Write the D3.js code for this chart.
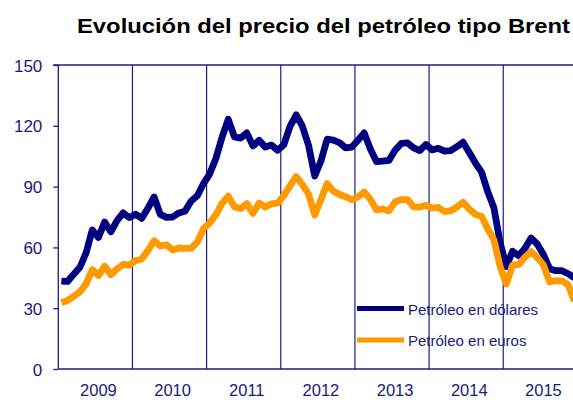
<!DOCTYPE html>
<html>
<head>
<meta charset="utf-8">
<script src="https://cdn.jsdelivr.net/npm/d3@7"></script>
<style>
  html, body { margin: 0; padding: 0; background: #fff; }
  svg { display: block; }
  text { font-family: "Liberation Sans", Arial, sans-serif; }
</style>
</head>
<body>
<svg id="chart" width="573" height="400"></svg>
<script>
// ---- Data (monthly, Jan 2009 – Dec 2015) ----
const years = ["2009", "2010", "2011", "2012", "2013", "2014", "2015"];
const yTicks = [0, 30, 60, 90, 120, 150];
const seriesNames = ["Petróleo en dólares", "Petróleo en euros"];

const usd2009 = [43.4, 43.2, 46.8, 50.2, 57.3, 68.6, 64.9, 72.5, 67.7, 73.2, 77.0, 74.7];
const usd2010 = [76.4, 74.3, 79.3, 84.9, 76.3, 74.8, 75.0, 77.0, 77.8, 82.9, 85.5, 91.5];
const usd2011 = [96.3, 103.9, 114.4, 123.2, 114.5, 113.9, 116.5, 110.1, 112.8, 109.5, 110.5, 107.9];
const usd2012 = [110.7, 119.7, 125.4, 119.8, 110.3, 95.2, 102.6, 113.4, 112.9, 111.7, 109.1, 109.5];
const usd2013 = [112.9, 116.5, 108.5, 102.3, 102.6, 102.9, 107.9, 111.3, 111.6, 109.1, 107.8, 110.8];
const usd2014 = [108.1, 108.9, 107.5, 107.8, 109.7, 111.9, 106.8, 101.6, 97.1, 87.4, 79.4, 62.3];
const usd2015 = [50.5, 58.1, 55.9, 59.5, 64.6, 61.7, 56.5, 49.5, 48.5, 48.5, 47.0, 45.0];

const eur2009 = [32.8, 33.8, 35.9, 38.1, 42.0, 49.0, 46.1, 50.8, 46.5, 49.4, 51.6, 51.2];
const eur2010 = [53.5, 54.3, 58.4, 63.3, 60.7, 61.3, 58.7, 59.7, 59.5, 59.6, 62.6, 69.2];
const eur2011 = [72.1, 76.1, 81.7, 85.3, 80.0, 79.2, 81.6, 76.8, 81.9, 79.9, 81.5, 81.9];
const eur2012 = [85.7, 90.4, 95.0, 91.0, 86.2, 76.0, 83.5, 91.5, 87.8, 86.1, 85.0, 83.5];
const eur2013 = [84.9, 87.3, 83.7, 78.5, 79.0, 78.0, 82.4, 83.6, 83.6, 80.0, 79.9, 80.8];
const eur2014 = [79.4, 79.7, 77.7, 78.1, 79.9, 82.3, 78.9, 76.3, 75.3, 69.0, 63.7, 50.5];
const eur2015 = [42.0, 51.2, 51.6, 55.1, 57.9, 55.0, 51.4, 43.0, 43.5, 43.5, 41.5, 33.5];

const usd = [].concat(usd2009, usd2010, usd2011, usd2012, usd2013, usd2014, usd2015);
const eur = [].concat(eur2009, eur2010, eur2011, eur2012, eur2013, eur2014, eur2015);

// ---- Layout ----
const svg = d3.select("#chart");
const pLeft = 58.3, pRight = 577.4, pTop = 65, pBottom = 369;
const axisColor = "#1c1c84";
const textColor = "#1a1a7e";
const blue = "#000080";
const orange = "#ff9900";

const nMonths = years.length * 12;
const x = d3.scaleLinear().domain([0, nMonths]).range([pLeft, pRight]);
const y = d3.scaleLinear().domain([0, 150]).range([pBottom, pTop]);

// Title
svg.append("text")
  .attr("x", 77).attr("y", 33)
  .attr("font-size", 21).attr("font-weight", "bold")
  .attr("fill", "#000")
  .attr("textLength", 493).attr("lengthAdjust", "spacingAndGlyphs")
  .text("Evolución del precio del petróleo tipo Brent");

// Year dividers
svg.append("g").selectAll("line")
  .data(d3.range(1, years.length))
  .join("line")
  .attr("x1", d => x(d * 12)).attr("x2", d => x(d * 12))
  .attr("y1", pTop).attr("y2", pBottom)
  .attr("stroke", axisColor).attr("stroke-width", 1.2);

// Frame: top line
svg.append("line")
  .attr("x1", pLeft - 5).attr("x2", pRight).attr("y1", pTop).attr("y2", pTop)
  .attr("stroke", axisColor).attr("stroke-width", 1.3);

// Y axis
const yAxis = d3.axisLeft(y).tickValues(yTicks).tickSize(5).tickPadding(11);
const yg = svg.append("g").attr("transform", `translate(${pLeft},0)`).call(yAxis);
yg.select(".domain").attr("stroke", axisColor).attr("stroke-width", 1.3).attr("d", `M0,${pTop}V${pBottom}`);
yg.selectAll(".tick line").attr("stroke", axisColor).attr("stroke-width", 1.3);
yg.selectAll(".tick text")
  .attr("fill", textColor).attr("font-size", 17)
  .attr("font-family", "'Liberation Sans', Arial, sans-serif")
  .attr("dy", "0.36em");

// Bottom axis line
svg.append("line")
  .attr("x1", pLeft).attr("x2", pRight).attr("y1", pBottom).attr("y2", pBottom)
  .attr("stroke", axisColor).attr("stroke-width", 1.3);

// Year labels
svg.append("g").selectAll("text")
  .data(years)
  .join("text")
  .attr("x", (d, i) => x(i * 12 + 6.5))
  .attr("y", 396.3)
  .attr("text-anchor", "middle")
  .attr("font-size", 16.5)
  .attr("fill", textColor)
  .text(d => d);

// Lines
const line = d3.line()
  .x((d, i) => x(i + 0.5))
  .y(d => y(d));

svg.append("path").datum(usd)
  .attr("d", line).attr("fill", "none")
  .attr("stroke", blue).attr("stroke-width", 6.8)
  .attr("stroke-linejoin", "round").attr("stroke-linecap", "butt");

svg.append("path").datum(eur)
  .attr("d", line).attr("fill", "none")
  .attr("stroke", orange).attr("stroke-width", 6.8)
  .attr("stroke-linejoin", "round").attr("stroke-linecap", "butt");

// Legend
const legend = svg.append("g");
const legendItems = [
  { name: seriesNames[0], color: blue, ly: 308.5 },
  { name: seriesNames[1], color: orange, ly: 340 }
];
legendItems.forEach(it => {
  legend.append("line")
    .attr("x1", 357).attr("x2", 404).attr("y1", it.ly).attr("y2", it.ly)
    .attr("stroke", it.color).attr("stroke-width", 5);
  legend.append("text")
    .attr("x", 408).attr("y", it.ly + 6)
    .attr("font-size", 15).attr("fill", textColor)
    .text(it.name);
});
</script>
</body>
</html>
